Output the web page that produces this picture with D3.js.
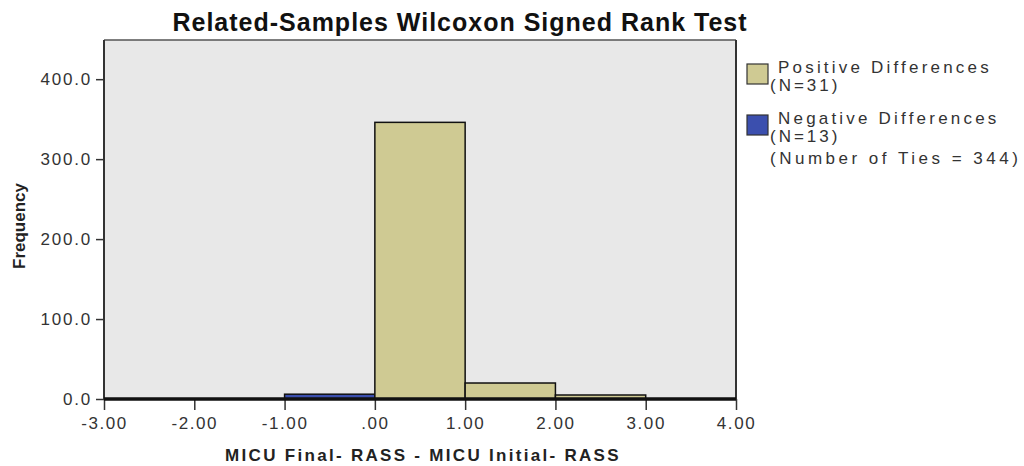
<!DOCTYPE html>
<html lang="en">
<head>
    <meta charset="UTF-8">
    <title>Related-Samples Wilcoxon Signed Rank Test</title>
    <script src="https://cdn.jsdelivr.net/npm/d3@7"></script>
    <style>
        body { margin: 0; background: #fff; }
        svg { display: block; font-family: Arial, "Liberation Sans", sans-serif; }
    </style>
</head>
<body>
<div id="chart-space"></div>
<script>
    // histogram bins (lower edge, width 1) and frequencies
    var binStarts = [-3, -2, -1, 0, 1, 2, 3];
    var positiveCounts = [0, 0, 0, 346, 20, 5, 0];
    var negativeCounts = [0, 0, 6, 0, 0, 0, 0];

    var xTicks = [-3, -2, -1, 0, 1, 2, 3, 4];
    var xTickLabels = ["-3.00", "-2.00", "-1.00", ".00", "1.00", "2.00", "3.00", "4.00"];
    var yTicks = [0, 100, 200, 300, 400];
    var yTickLabels = ["0.0", "100.0", "200.0", "300.0", "400.0"];

    var legendLabels = [["Positive Differences", "(N=31)"], ["Negative Differences", "(N=13)"]];
    var tiesLabel = "(Number of Ties = 344)";

    var width = 1024, height = 466;
    var margin = {top: 40, right: 288, bottom: 67, left: 104};
    var chartWidth = width - margin.left - margin.right;
    var chartHeight = height - margin.top - margin.bottom;

    var posColor = "#cfca93";
    var negColor = "#3b4fae";

    var svg = d3.select("#chart-space").append("svg")
        .attr("width", width)
        .attr("height", height);

    var xScale = d3.scaleLinear().domain([-3, 4]).range([0, chartWidth]);
    var yScale = d3.scaleLinear().domain([0, 449]).range([chartHeight, 0]);

    // title
    svg.append("text")
        .attr("x", 460).attr("y", 31)
        .attr("text-anchor", "middle")
        .style("font-size", "25px").style("font-weight", "bold")
        .style("letter-spacing", "1px")
        .attr("fill", "#111")
        .text("Related-Samples Wilcoxon Signed Rank Test");

    var g = svg.append("g").attr("transform", "translate(" + margin.left + "," + margin.top + ")");

    // plot background
    g.append("rect")
        .attr("width", chartWidth).attr("height", chartHeight)
        .attr("fill", "#e8e8e8");

    // bars
    var bins = binStarts.map(function(b, i) {
        return {start: b, pos: positiveCounts[i], neg: negativeCounts[i]};
    });

    g.selectAll("rect.neg")
        .data(bins.filter(function(d){ return d.neg > 0; }))
        .join("rect").attr("class", "neg")
        .attr("x", function(d){ return xScale(d.start); })
        .attr("width", function(d){ return xScale(d.start + 1) - xScale(d.start); })
        .attr("y", function(d){ return yScale(d.neg); })
        .attr("height", function(d){ return chartHeight - yScale(d.neg); })
        .attr("fill", negColor).attr("stroke", "#111").attr("stroke-width", 1.5);

    g.selectAll("rect.pos")
        .data(bins.filter(function(d){ return d.pos > 0; }))
        .join("rect").attr("class", "pos")
        .attr("x", function(d){ return xScale(d.start); })
        .attr("width", function(d){ return xScale(d.start + 1) - xScale(d.start); })
        .attr("y", function(d){ return yScale(d.pos); })
        .attr("height", function(d){ return chartHeight - yScale(d.pos); })
        .attr("fill", posColor).attr("stroke", "#111").attr("stroke-width", 1.5);

    // frame
    g.append("line").attr("x1", 0).attr("x2", chartWidth).attr("y1", 0).attr("y2", 0)
        .attr("stroke", "#555").attr("stroke-width", 1.5);
    g.append("line").attr("x1", 0).attr("x2", 0).attr("y1", 0).attr("y2", chartHeight)
        .attr("stroke", "#333").attr("stroke-width", 2);
    g.append("line").attr("x1", chartWidth).attr("x2", chartWidth).attr("y1", 0).attr("y2", chartHeight)
        .attr("stroke", "#333").attr("stroke-width", 2);

    // y axis
    var yAxis = d3.axisLeft(yScale)
        .tickValues(yTicks)
        .tickFormat(function(d, i){ return yTickLabels[i]; })
        .tickSize(8).tickPadding(4);
    var yg = g.append("g").call(yAxis);
    yg.select(".domain").remove();
    yg.selectAll(".tick line").attr("stroke", "#333").attr("stroke-width", 1.5);
    yg.selectAll(".tick text")
        .style("font-size", "17px").style("letter-spacing", "1.8px")
        .attr("fill", "#333").attr("font-family", null);

    // x axis
    var xAxis = d3.axisBottom(xScale)
        .tickValues(xTicks)
        .tickFormat(function(d, i){ return xTickLabels[i]; })
        .tickSize(11).tickPadding(7);
    var xg = g.append("g").attr("transform", "translate(0," + chartHeight + ")").call(xAxis);
    xg.select(".domain").remove();
    xg.selectAll(".tick line").attr("stroke", "#333").attr("stroke-width", 1.5);
    xg.selectAll(".tick text")
        .style("font-size", "17px").style("letter-spacing", "1.6px")
        .attr("fill", "#333").attr("font-family", null);

    // thick baseline
    g.append("line").attr("x1", 0).attr("x2", chartWidth)
        .attr("y1", chartHeight).attr("y2", chartHeight)
        .attr("stroke", "#111").attr("stroke-width", 3.5);

    // axis titles
    svg.append("text")
        .attr("x", 423).attr("y", 461)
        .attr("text-anchor", "middle")
        .style("font-size", "17px").style("font-weight", "bold")
        .style("letter-spacing", "2.3px")
        .attr("fill", "#222")
        .text("MICU Final- RASS - MICU Initial- RASS");

    svg.append("text")
        .attr("transform", "translate(25,226) rotate(-90)")
        .attr("text-anchor", "middle")
        .style("font-size", "17px").style("font-weight", "bold")
        .attr("fill", "#222")
        .text("Frequency");

    // legend
    var legend = svg.append("g").attr("transform", "translate(747,0)");
    var swatchY = [64, 115];
    var colors = [posColor, negColor];
    legendLabels.forEach(function(lines, i) {
        legend.append("rect")
            .attr("x", 0).attr("y", swatchY[i])
            .attr("width", 21).attr("height", 20)
            .attr("fill", colors[i]).attr("stroke", "#333").attr("stroke-width", 1.2);
        legend.append("text")
            .attr("x", 31).attr("y", swatchY[i] + 9)
            .style("font-size", "17px").style("letter-spacing", "3.2px")
            .attr("fill", "#333")
            .text(lines[0]);
        legend.append("text")
            .attr("x", 23).attr("y", swatchY[i] + 27)
            .style("font-size", "17px").style("letter-spacing", "3px")
            .attr("fill", "#333")
            .text(lines[1]);
    });
    legend.append("text")
        .attr("x", 23).attr("y", 164)
        .style("font-size", "17px").style("letter-spacing", "3.5px")
        .attr("fill", "#333")
        .text(tiesLabel);
</script>
</body>
</html>
